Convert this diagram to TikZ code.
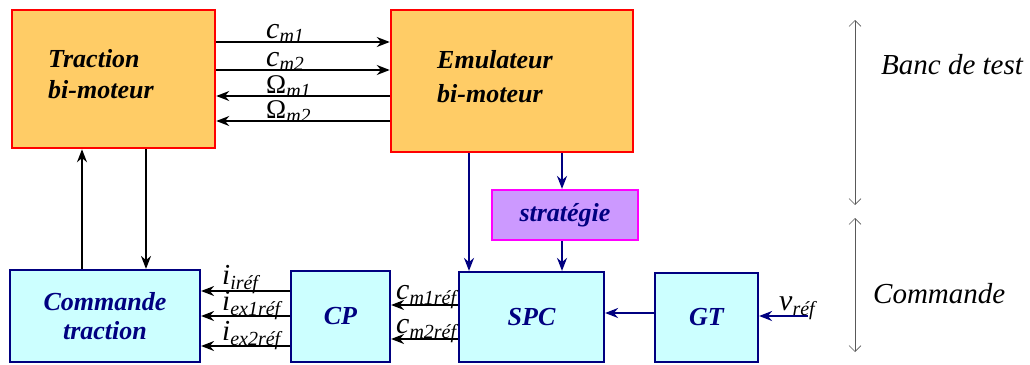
\documentclass[tikz,border=0pt]{standalone}
\usepackage{fontspec}
\setmainfont{Liberation Serif}
\usetikzlibrary{arrows.meta}
\definecolor{orfill}{HTML}{FFCC66}
\definecolor{redb}{HTML}{FF0000}
\definecolor{navy}{HTML}{000080}
\definecolor{cyfill}{HTML}{CCFFFF}
\definecolor{pufill}{HTML}{CC99FF}
\definecolor{magb}{HTML}{FF00FF}
\newcommand\lbl[2]{#1\textsubscript{\fontsize{20pt}{20pt}\selectfont #2}}
\tikzset{
  obox/.style={draw=redb, fill=orfill, line width=2.5pt, inner sep=0pt},
  otxt/.style={inner sep=0pt, font=\fontsize{26pt}{31pt}\selectfont\bfseries\itshape, align=left},
  cbox/.style={draw=navy, fill=cyfill, line width=2.2pt, inner sep=0pt, text=navy, font=\fontsize{26pt}{29pt}\selectfont\bfseries\itshape, align=center},
  pbox/.style={draw=magb, fill=pufill, line width=2.2pt, inner sep=0pt, text=navy, font=\fontsize{26pt}{29pt}\selectfont\bfseries\itshape},
  barr/.style={-{Stealth[length=13pt,width=10pt]}, line width=1.6pt, black},
  narr/.style={-{Stealth[length=13pt,width=10pt]}, line width=1.8pt, navy},
  sig/.style={font=\fontsize{30pt}{30pt}\selectfont\itshape, inner sep=0pt},
  rng/.style={{Straight Barb[length=6pt,width=12pt,line width=0.6pt]}-{Straight Barb[length=6pt,width=12pt,line width=0.6pt]}, line width=0.8pt, gray!70!black},
  side/.style={font=\fontsize{29pt}{29pt}\selectfont\itshape, inner sep=0pt}
}
\begin{document}
\begin{tikzpicture}[x=1pt,y=-1pt]
\useasboundingbox (0,0) rectangle (1030,364);
% boxes
\node[obox, minimum width=203pt, minimum height=138pt] (trac) at (113.5,79) {};
\node[otxt, anchor=west] (tract) at (48,74) {Traction\\bi-moteur};
\node[obox, minimum width=242pt, minimum height=142pt] (emu) at (512,81) {};
\node[otxt, anchor=west, font=\fontsize{26pt}{34pt}\selectfont\bfseries\itshape] (emut) at (437,77) {Emulateur\\bi-moteur};
\node[pbox, minimum width=146pt, minimum height=50pt] (strat) at (565,215) {stratégie};
\node[cbox, minimum width=190pt, minimum height=92pt] (cmd) at (105,316) {Commande\\traction};
\node[cbox, minimum width=99pt, minimum height=91pt] (cp) at (340.5,316.5) {CP};
\node[cbox, minimum width=145pt, minimum height=90pt] (spc) at (531.5,317) {SPC};
\node[cbox, minimum width=103pt, minimum height=89pt] (gt) at (706.5,317.5) {GT};
% top signals
\draw[barr] (trac.east |- 0,42) -- (emu.west |- 0,42);
\draw[barr] (trac.east |- 0,70) -- (emu.west |- 0,70);
\draw[barr] (emu.west |- 0,96) -- (trac.east |- 0,96);
\draw[barr] (emu.west |- 0,121) -- (trac.east |- 0,121);
\node[sig, anchor=base west] (l1) at (266,38) {\lbl{c}{m1}};
\node[sig, anchor=base west] (l2) at (266,66) {\lbl{c}{m2}};
\node[sig, anchor=base west, font=\fontsize{27pt}{27pt}\selectfont] (l3) at (266,93) {Ω\textsubscript{\fontsize{20pt}{20pt}\selectfont\itshape m1}};
\node[sig, anchor=base west, font=\fontsize{27pt}{27pt}\selectfont] (l4) at (266,118) {Ω\textsubscript{\fontsize{20pt}{20pt}\selectfont\itshape m2}};
% verticals left
\draw[barr] (cmd.north -| 82,0) -- (trac.south -| 82,0);
\draw[barr] (trac.south -| 146,0) -- (cmd.north -| 146,0);
% emulator down
\draw[narr] (emu.south -| 469,0) -- (spc.north -| 469,0);
\draw[narr] (emu.south -| 562,0) -- (strat.north -| 562,0);
\draw[narr] (strat.south -| 562,0) -- (spc.north -| 562,0);
% CP to commande
\draw[barr] (cp.west |- 0,291) -- (cmd.east |- 0,291);
\draw[barr] (cp.west |- 0,316) -- (cmd.east |- 0,316);
\draw[barr] (cp.west |- 0,346) -- (cmd.east |- 0,346);
\node[sig, anchor=base west, font=\fontsize{29pt}{29pt}\selectfont\itshape] (i1) at (222,284) {\lbl{i}{iréf}};
\node[sig, anchor=base west, font=\fontsize{29pt}{29pt}\selectfont\itshape] (i2) at (222,310) {\lbl{i}{ex1réf}};
\node[sig, anchor=base west, font=\fontsize{29pt}{29pt}\selectfont\itshape] (i3) at (222,340) {\lbl{i}{ex2réf}};
% SPC to CP
\draw[barr] (spc.west |- 0,305) -- (cp.east |- 0,305);
\draw[barr] (spc.west |- 0,339) -- (cp.east |- 0,339);
\node[sig, anchor=base west] (c1) at (396,299) {\lbl{c}{m1réf}};
\node[sig, anchor=base west] (c2) at (396,333) {\lbl{c}{m2réf}};
% GT to SPC
\draw[narr] (gt.west |- 0,313) -- (spc.east |- 0,313);
\coordinate (vin) at (808,316);
\draw[narr] (vin) -- (gt.east |- vin);
\node[sig, anchor=base west] (v) at (779,310) {\lbl{v}{réf}};
% right side ranges
\coordinate (r1a) at (855,20);
\coordinate (r1b) at (855,205);
\coordinate (r2a) at (855,218);
\coordinate (r2b) at (855,352);
\draw[rng] (r1a) -- (r1b);
\draw[rng] (r2a) -- (r2b);
\node[side, anchor=base west] (banc) at (881,74) {Banc de test};
\node[side, anchor=base west] (cmdl) at (873,303) {Commande};
\end{tikzpicture}
\end{document}
